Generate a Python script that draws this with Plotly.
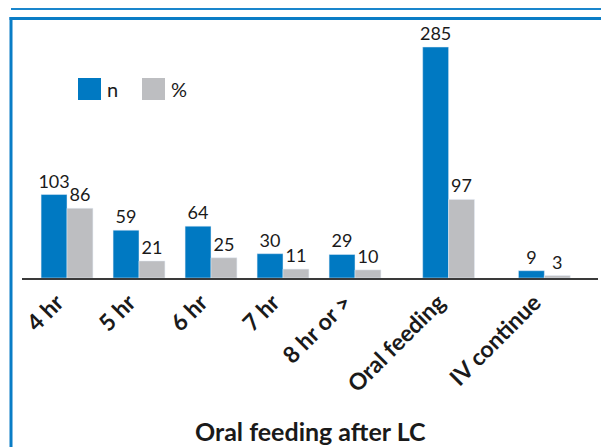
import plotly.graph_objects as go

categories = ["4 hr", "5 hr", "6 hr", "7 hr", "8 hr or >", "Oral feeding", "IV continue"]
n_values = [103, 59, 64, 30, 29, 285, 9]
pct_values = [86, 21, 25, 11, 10, 97, 3]
series_names = ["n", "%"]
x_title = "Oral feeding after LC"

# layout: category positions (gap before the last two groups)
xpos = [0, 1, 2, 3, 4, 5.3, 6.63]

BLUE = "#0079C2"
GRAY = "#BDBEC1"
FONT = "Lato"
TXT = "#1a1a1a"

W, H = 601, 447
L, R, T, B = 22, 3, 20, 169
PW, PH = W - L - R, H - T - B
YMAX = 285 * PH / 231.0


def px(x):
    return (x - L) / PW


def py(y):
    return (H - B - y) / PH


bw = 0.36
fig = go.Figure()
fig.add_trace(go.Bar(x=xpos, y=n_values, name=series_names[0], marker_color=BLUE,
                     width=bw, offset=-bw, text=[str(v) for v in n_values],
                     textposition="outside", cliponaxis=False, constraintext="none",
                     textfont=dict(family=FONT, size=18, color=TXT)))
fig.add_trace(go.Bar(x=xpos, y=pct_values, name=series_names[1], marker_color=GRAY,
                     width=bw, offset=0, text=[str(v) for v in pct_values],
                     textposition="outside", cliponaxis=False, constraintext="none",
                     textfont=dict(family=FONT, size=18, color=TXT)))

shapes = []
# frame lines
shapes.append(dict(type="line", xref="paper", yref="paper", x0=px(11), x1=px(601), y0=py(9), y1=py(9),
                   line=dict(color="#1A86CC", width=2)))
shapes.append(dict(type="line", xref="paper", yref="paper", x0=px(9.5), x1=px(601), y0=py(18.5), y1=py(18.5),
                   line=dict(color="#0A7DC6", width=3)))
shapes.append(dict(type="line", xref="paper", yref="paper", x0=px(11), x1=px(11), y0=py(17), y1=py(447),
                   line=dict(color="#0A7DC6", width=3)))
# manual legend
leg_x = [78, 142]
leg_cols = [BLUE, GRAY]
annotations = []
for i, name in enumerate(series_names):
    shapes.append(dict(type="rect", xref="paper", yref="paper", x0=px(leg_x[i]), x1=px(leg_x[i] + 23),
                       y0=py(100), y1=py(78), fillcolor=leg_cols[i], line=dict(width=0)))
    annotations.append(dict(xref="paper", yref="paper", x=px(leg_x[i] + 27), y=py(89), text=name,
                            showarrow=False, xanchor="left", yanchor="middle",
                            font=dict(family=FONT, size=20, color=TXT)))
annotations.append(dict(xref="paper", yref="paper", x=px(310), y=py(431), text="<b>" + x_title + "</b>",
                        showarrow=False, xanchor="center", yanchor="middle",
                        font=dict(family=FONT, size=25, color=TXT)))

fig.update_layout(
    width=W, height=H,
    margin=dict(l=L, r=R, t=T, b=B, autoexpand=False),
    paper_bgcolor="white", plot_bgcolor="white",
    barmode="overlay", showlegend=False,
    shapes=shapes, annotations=annotations,
    xaxis=dict(range=[(22 - 67) / 72.0, (598 - 67) / 72.0], tickmode="array", tickvals=xpos,
               ticktext=["<b>" + c + "</b>" for c in categories], tickangle=-45,
               tickfont=dict(family=FONT, size=23, color=TXT), showline=True,
               linecolor="#3a3a3a", linewidth=2, showgrid=False, zeroline=False, ticks="",
               ticklabelshift=-10, automargin=False),
    yaxis=dict(range=[0, YMAX], visible=False, showgrid=False, zeroline=False),
)

fig.write_html("out.html", config={"displayModeBar": False},
               post_script="document.body.style.margin='0';document.body.style.overflow='hidden';")
